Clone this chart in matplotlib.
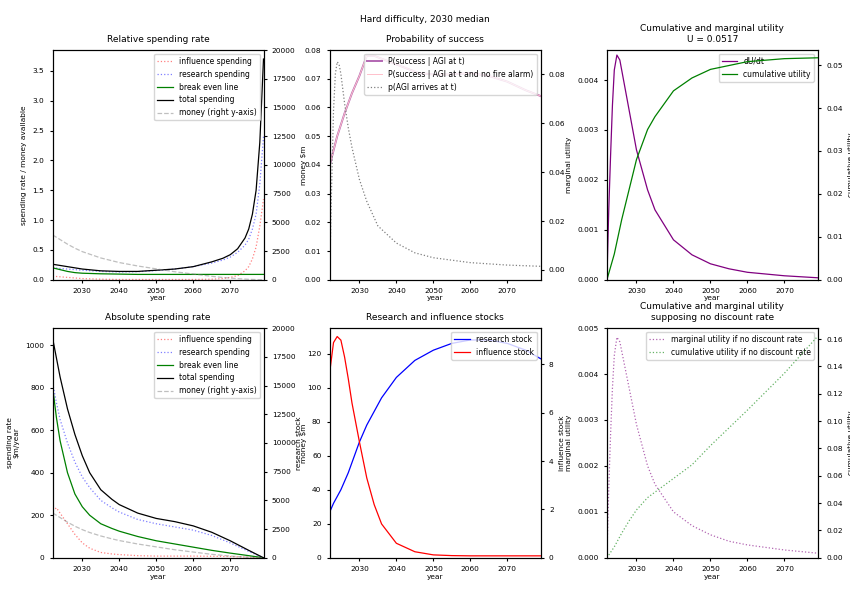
import matplotlib
matplotlib.use("Agg")
import matplotlib.pyplot as plt

plt.rcParams['font.size'] = 5.3
plt.rcParams['xtick.major.size'] = 2.5
plt.rcParams['ytick.major.size'] = 2.5

# relative spending
rel_years = [2022, 2024, 2026, 2028, 2030, 2035, 2040, 2045, 2050, 2055, 2060, 2065, 2068, 2070, 2072, 2074, 2075, 2076, 2077, 2078, 2079]
rel_total = [0.26, 0.24, 0.22, 0.20, 0.18, 0.15, 0.14, 0.14, 0.16, 0.18, 0.22, 0.30, 0.36, 0.42, 0.52, 0.70, 0.85, 1.10, 1.50, 2.30, 3.70]
rel_research = [0.20, 0.19, 0.18, 0.17, 0.16, 0.14, 0.13, 0.135, 0.155, 0.18, 0.22, 0.28, 0.33, 0.38, 0.46, 0.58, 0.68, 0.85, 1.10, 1.60, 2.40]
rel_influence = [0.06, 0.05, 0.04, 0.03, 0.02, 0.01, 0.005, 0.005, 0.005, 0.005, 0.005, 0.01, 0.02, 0.04, 0.07, 0.15, 0.22, 0.35, 0.55, 0.90, 1.35]
rel_breakeven = [0.20, 0.17, 0.14, 0.12, 0.11, 0.10, 0.095, 0.09, 0.09, 0.09, 0.09, 0.09, 0.09, 0.09, 0.09, 0.09, 0.09, 0.09, 0.09, 0.09, 0.09]
rel_money = [3900, 3500, 3100, 2750, 2450, 1900, 1500, 1200, 950, 700, 500, 300, 200, 150, 100, 60, 40, 30, 20, 10, 5]

# absolute spending
abs_years = [2022, 2023, 2024, 2026, 2028, 2030, 2032, 2035, 2038, 2040, 2045, 2050, 2055, 2060, 2065, 2070, 2075, 2079]
abs_total = [1030, 940, 850, 700, 580, 480, 400, 320, 275, 250, 210, 185, 170, 150, 120, 80, 35, 0]
abs_research = [820, 730, 650, 540, 450, 380, 330, 270, 235, 215, 180, 160, 145, 130, 105, 70, 30, 0]
abs_breakeven = [800, 660, 550, 400, 300, 240, 200, 160, 138, 125, 100, 80, 65, 50, 35, 22, 10, 0]
abs_influence = [220, 235, 210, 160, 110, 70, 45, 25, 18, 15, 10, 8, 8, 8, 7, 6, 3, 0]
abs_money = [3900, 3700, 3500, 3100, 2750, 2450, 2200, 1900, 1650, 1500, 1200, 950, 700, 500, 300, 150, 40, 5]

# probability of success
p_years = [2022, 2024, 2026, 2028, 2030, 2032, 2034, 2038, 2042, 2046, 2050, 2055, 2060, 2065, 2070, 2075, 2079]
p_success = [0.040, 0.050, 0.058, 0.065, 0.071, 0.078, 0.078, 0.076, 0.074, 0.072, 0.0715, 0.0715, 0.072, 0.071, 0.069, 0.066, 0.064]
agi_years = [2022, 2022.5, 2023, 2023.5, 2024, 2024.5, 2025, 2026, 2027, 2028, 2030, 2032, 2035, 2040, 2045, 2050, 2055, 2060, 2070, 2079]
p_agi = [0.0, 0.035, 0.065, 0.08, 0.085, 0.084, 0.08, 0.068, 0.058, 0.05, 0.037, 0.028, 0.018, 0.011, 0.007, 0.005, 0.004, 0.003, 0.002, 0.0015]

# utility
u_years = [2022, 2022.5, 2023, 2023.5, 2024, 2024.7, 2025.5, 2026, 2028, 2030, 2033, 2035, 2040, 2045, 2050, 2055, 2060, 2070, 2079]
dudt = [0.0, 0.0014, 0.0025, 0.0035, 0.0042, 0.0045, 0.0044, 0.0042, 0.0034, 0.0026, 0.0018, 0.0014, 0.0008, 0.0005, 0.00032, 0.00022, 0.00015, 0.00008, 0.00004]
cu_years = [2022, 2024, 2026, 2028, 2030, 2033, 2035, 2040, 2045, 2050, 2060, 2070, 2079]
cum_u = [0.0, 0.006, 0.014, 0.021, 0.028, 0.035, 0.038, 0.044, 0.047, 0.049, 0.0508, 0.0515, 0.0517]
dudt_nd = [0.0, 0.0015, 0.0027, 0.0037, 0.0044, 0.0048, 0.0047, 0.0045, 0.0037, 0.0029, 0.0020, 0.0016, 0.0010, 0.0007, 0.0005, 0.00036, 0.00028, 0.00017, 0.0001]
cum_nd = [0.0, 0.008, 0.018, 0.027, 0.035, 0.044, 0.048, 0.058, 0.068, 0.082, 0.108, 0.135, 0.162]

# stocks
s_years = [2022, 2023, 2024, 2025, 2026, 2027, 2028, 2030, 2032, 2034, 2036, 2040, 2045, 2050, 2055, 2060, 2065, 2070, 2075, 2079]
research_stock = [27, 32, 36, 40, 45, 50, 56, 68, 78, 86, 94, 106, 116, 122, 126, 128, 128, 126, 122, 117]
influence_stock = [7.7, 8.9, 9.15, 9.0, 8.3, 7.4, 6.4, 4.8, 3.3, 2.2, 1.4, 0.6, 0.25, 0.12, 0.09, 0.08, 0.08, 0.08, 0.08, 0.08]

fig = plt.figure(figsize=(8.5, 5.89), dpi=100)
fig.suptitle("Hard difficulty, 2030 median", fontsize=6.5, y=0.975)
lefts = [0.062, 0.388, 0.714]
w = 0.248
tops = [0.525, 0.053]
h = 0.39
years_ticks = [2030, 2040, 2050, 2060, 2070]

def spend_panel(ax, yrs, inf, res, be, tot, money, title, ylabel, ylim):
    ax.plot(yrs, inf, ':', color='red', alpha=0.5, lw=0.9, label='influence spending')
    ax.plot(yrs, res, ':', color='blue', alpha=0.5, lw=0.9, label='research spending')
    ax.plot(yrs, be, '-', color='green', lw=0.9, label='break even line')
    ax.plot(yrs, tot, '-', color='black', lw=0.9, label='total spending')
    ax.plot([], [], '--', color='gray', alpha=0.5, lw=0.9, label='money (right y-axis)')
    ax.set_title(title, fontsize=6.5)
    ax.set_ylabel(ylabel)
    ax.set_xlabel("year", labelpad=1)
    ax.set_ylim(*ylim)
    ax.set_xlim(2022, 2079)
    ax.set_xticks(years_ticks)
    ax.legend(loc='upper right', fontsize=5.5)
    ax2 = ax.twinx()
    ax2.plot(yrs, money, '--', color='gray', alpha=0.5, lw=0.9)
    ax2.set_ylim(0, 20000)
    ax2.set_ylabel("money \\$m")

ax = fig.add_axes([lefts[0], tops[0], w, h])
spend_panel(ax, rel_years, rel_influence, rel_research, rel_breakeven, rel_total, rel_money,
            "Relative spending rate", "spending rate / money available", (0, 3.85))

ax = fig.add_axes([lefts[0], tops[1], w, h])
spend_panel(ax, abs_years, abs_influence, abs_research, abs_breakeven, abs_total, abs_money,
            "Absolute spending rate", "spending rate\n\\$m/year", (0, 1080))

# probability
ax = fig.add_axes([lefts[1], tops[0], w, h])
ax.plot(p_years, p_success, '-', color='purple', alpha=0.6, lw=1.4, label='P(success | AGI at t)')
ax.plot(p_years, p_success, '-', color='pink', lw=0.7, label='P(success | AGI at t and no fire alarm)')
ax.plot([], [], ':', color='gray', lw=0.9, label='p(AGI arrives at t)')
ax.set_ylim(0, 0.08)
ax.set_xlim(2022, 2079)
ax.set_xticks(years_ticks)
ax.set_title("Probability of success", fontsize=6.5)
ax.set_xlabel("year", labelpad=1)
ax.legend(loc='upper right', fontsize=5.5)
ax2 = ax.twinx()
ax2.plot(agi_years, p_agi, ':', color='gray', lw=0.9)
ax2.set_ylim(-0.004, 0.0898)

# stocks
ax = fig.add_axes([lefts[1], tops[1], w, h])
ax.plot(s_years, research_stock, '-', color='blue', lw=0.9, label='research stock')
ax.plot([], [], '-', color='red', lw=0.9, label='influence stock')
ax.set_ylim(0, 135)
ax.set_xlim(2022, 2079)
ax.set_xticks(years_ticks)
ax.set_title("Research and influence stocks", fontsize=6.5)
ax.set_xlabel("year", labelpad=1)
ax.set_ylabel("research stock")
ax.legend(loc='upper right', fontsize=5.5)
ax2 = ax.twinx()
ax2.plot(s_years, influence_stock, '-', color='red', lw=0.9)
ax2.set_ylim(0, 9.5)
ax2.set_ylabel("influence stock")

# utility
ax = fig.add_axes([lefts[2], tops[0], w, h])
ax.plot(u_years, dudt, '-', color='purple', lw=0.9, label='dU/dt')
ax.plot([], [], '-', color='green', lw=0.9, label='cumulative utility')
ax.set_ylim(0, 0.0046)
ax.set_xlim(2022, 2079)
ax.set_xticks(years_ticks)
ax.set_title("Cumulative and marginal utility\nU = 0.0517", fontsize=6.5)
ax.set_xlabel("year", labelpad=1)
ax.set_ylabel("marginal utility")
ax.legend(loc='upper right', fontsize=5.5)
ax2 = ax.twinx()
ax2.plot(cu_years, cum_u, '-', color='green', lw=0.9)
ax2.set_ylim(0, 0.0535)
ax2.set_ylabel("cumulative utility")

ax = fig.add_axes([lefts[2], tops[1], w, h])
ax.plot(u_years, dudt_nd, ':', color='purple', alpha=0.6, lw=0.9, label='marginal utility if no discount rate')
ax.plot([], [], ':', color='green', alpha=0.6, lw=0.9, label='cumulative utility if no discount rate')
ax.set_ylim(0, 0.005)
ax.set_xlim(2022, 2079)
ax.set_xticks(years_ticks)
ax.set_title("Cumulative and marginal utility\nsupposing no discount rate", fontsize=6.5)
ax.set_xlabel("year", labelpad=1)
ax.set_ylabel("marginal utility")
ax.legend(loc='upper right', fontsize=5.5)
ax2 = ax.twinx()
ax2.plot(cu_years, cum_nd, ':', color='green', alpha=0.6, lw=0.9)
ax2.set_ylim(0, 0.168)
ax2.set_ylabel("cumulative utility")

fig.savefig("out.png", dpi=100)
